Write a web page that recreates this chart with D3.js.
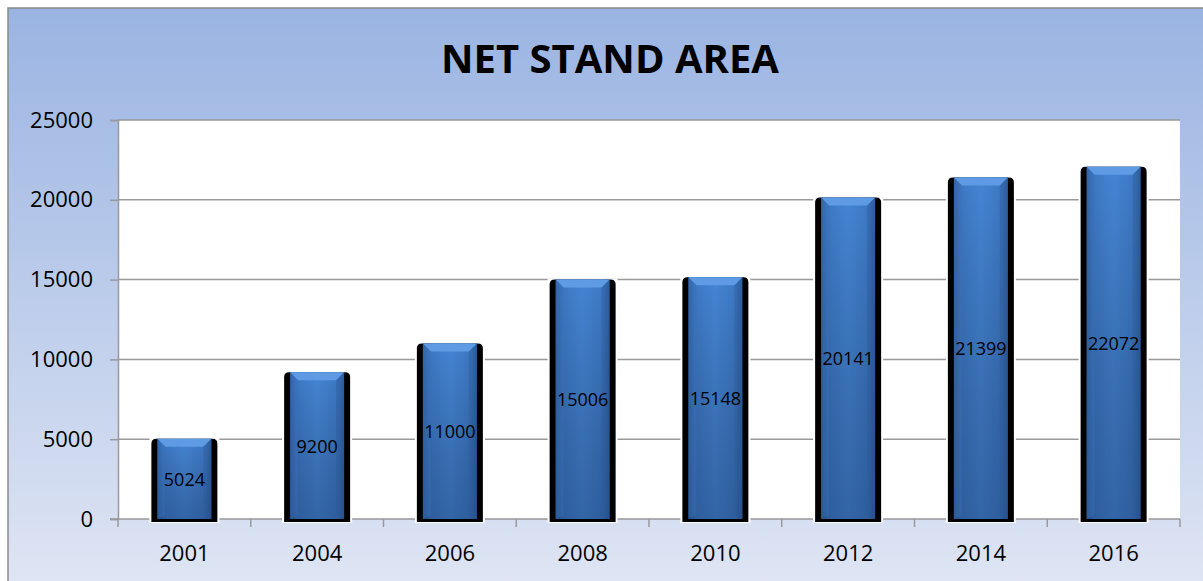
<!DOCTYPE html>
<html>
<head>
<meta charset="utf-8">
<script src="https://cdn.jsdelivr.net/npm/d3@7"></script>
<style>
  body { margin: 0; background: #fff; }
  text { font-family: "Open Sans", sans-serif; }
</style>
</head>
<body>
<script>
// data
let years = ['2001', '2004', '2006', '2008', '2010', '2012', '2014', '2016']
let standArea = [5024, 9200, 11000, 15006, 15148, 20141, 21399, 22072]
let yTicks = [0, 5000, 10000, 15000, 20000, 25000]

let W = 1203, H = 581
let plot = { left: 118, right: 1180, top: 120, bottom: 519 }

let svg = d3.select('body')
    .append('svg')
    .attr('width', W)
    .attr('height', H)

let defs = svg.append('defs')

let bgGrad = defs.append('linearGradient')
    .attr('id', 'bg')
    .attr('x1', 0).attr('y1', 0).attr('x2', 0).attr('y2', 1)
bgGrad.append('stop').attr('offset', '0%').attr('stop-color', '#9ab4e2')
bgGrad.append('stop').attr('offset', '100%').attr('stop-color', '#e0e6f4')

// horizontal shading of the bar
let barGrad = defs.append('linearGradient')
    .attr('id', 'barH')
    .attr('x1', 0).attr('y1', 0).attr('x2', 1).attr('y2', 0)
barGrad.append('stop').attr('offset', '0%').attr('stop-color', '#2f5f9f')
barGrad.append('stop').attr('offset', '12%').attr('stop-color', '#3d78c4')
barGrad.append('stop').attr('offset', '50%').attr('stop-color', '#4585d4')
barGrad.append('stop').attr('offset', '88%').attr('stop-color', '#3d78c4')
barGrad.append('stop').attr('offset', '100%').attr('stop-color', '#2f5f9f')

let barV = defs.append('linearGradient')
    .attr('id', 'barV')
    .attr('x1', 0).attr('y1', 0).attr('x2', 0).attr('y2', 1)
barV.append('stop').attr('offset', '0%').attr('stop-color', '#000').attr('stop-opacity', 0)
barV.append('stop').attr('offset', '100%').attr('stop-color', '#0a1e40').attr('stop-opacity', 0.3)

// background frame
svg.append('rect')
    .attr('x', 8)
    .attr('y', 8)
    .attr('width', W + 10)
    .attr('height', H + 10)
    .style('fill', 'url(#bg)')
    .style('stroke', '#8a8a8a')
    .style('stroke-width', 1.5)

svg.append('rect')
    .attr('x', plot.left)
    .attr('y', plot.top)
    .attr('width', plot.right - plot.left)
    .attr('height', plot.bottom - plot.top)
    .style('fill', '#fff')

svg.append('text')
    .attr('x', 610)
    .attr('y', 73)
    .attr('text-anchor', 'middle')
    .style('font-size', '40px')
    .style('font-weight', 'bold')
    .style('fill', '#000')
    .text('NET STAND AREA')

let x = d3.scaleBand()
    .domain(years)
    .range([plot.left, plot.right])

let y = d3.scaleLinear()
    .domain([0, 25000])
    .range([plot.bottom, plot.top])

// gridlines
svg.append('g')
    .selectAll('line')
    .data(yTicks.slice(1))
    .join('line')
    .attr('x1', plot.left)
    .attr('x2', plot.right)
    .attr('y1', d => y(d))
    .attr('y2', d => y(d))
    .style('stroke', '#999')
    .style('stroke-width', 1.5)

// y axis
let yAxis = svg.append('g')
    .attr('transform', `translate(${plot.left},0)`)
    .call(d3.axisLeft(y).tickValues(yTicks).tickFormat(d3.format('d')).tickSize(8).tickPadding(17))
yAxis.select('.domain').style('stroke', '#999').style('stroke-width', 1.5)
yAxis.selectAll('.tick line').style('stroke', '#999').style('stroke-width', 1.5)
yAxis.selectAll('text').style('font-size', '22px').style('fill', '#000')
    .style('font-family', '"Open Sans", sans-serif')

// x axis
let xAxis = svg.append('g')
    .attr('transform', `translate(0,${plot.bottom})`)
    .call(d3.axisBottom(x).tickSize(0).tickPadding(26))
xAxis.select('.domain').remove()
xAxis.selectAll('text').style('font-size', '22px').style('fill', '#000')
    .style('font-family', '"Open Sans", sans-serif')

svg.append('line')
    .attr('x1', plot.left - 8)
    .attr('x2', plot.right)
    .attr('y1', plot.bottom)
    .attr('y2', plot.bottom)
    .style('stroke', '#999')
    .style('stroke-width', 1.5)

svg.append('g')
    .selectAll('line')
    .data(years.map((d, i) => i).concat([years.length]))
    .join('line')
    .attr('x1', i => plot.left + i * x.step())
    .attr('x2', i => plot.left + i * x.step())
    .attr('y1', plot.bottom)
    .attr('y2', plot.bottom + 8)
    .style('stroke', '#999')
    .style('stroke-width', 1.5)

// bars
let outerW = 66, innerW = 54
let bars = svg.append('g')
    .selectAll('g')
    .data(years.map((d, i) => ({ year: d, value: standArea[i] })))
    .join('g')
    .attr('transform', d => `translate(${x(d.year) + x.bandwidth() / 2},0)`)

// white halo + black shadow
bars.append('rect')
    .attr('x', -outerW / 2 - 2)
    .attr('y', d => y(d.value) - 1)
    .attr('width', outerW + 4)
    .attr('height', d => plot.bottom - y(d.value) + 5)
    .style('fill', '#fff')

bars.append('path')
    .attr('d', d => {
        let t = y(d.value), b = plot.bottom + 3, l = -outerW / 2, r = outerW / 2, rr = 5
        return `M${l},${b} L${l},${t + rr} Q${l},${t} ${l + rr},${t} L${r - rr},${t} Q${r},${t} ${r},${t + rr} L${r},${b} Z`
    })
    .style('fill', '#000')

bars.append('rect')
    .attr('x', -innerW / 2)
    .attr('y', d => y(d.value))
    .attr('width', innerW)
    .attr('height', d => plot.bottom - y(d.value))
    .style('fill', 'url(#barH)')

bars.append('rect')
    .attr('x', -innerW / 2)
    .attr('y', d => y(d.value))
    .attr('width', innerW)
    .attr('height', d => plot.bottom - y(d.value))
    .style('fill', 'url(#barV)')

// bevel on top
bars.append('path')
    .attr('d', d => {
        let t = y(d.value), l = -innerW / 2, r = innerW / 2, bv = 8
        return `M${l},${t} L${r},${t} L${r - bv},${t + bv} L${l + bv},${t + bv} Z`
    })
    .style('fill', '#5f9be4')

bars.append('path')
    .attr('d', d => {
        let t = y(d.value), l = -innerW / 2, bv = 8
        return `M${l},${t} L${l + bv},${t + bv} L${l + bv},${plot.bottom - 4} L${l},${plot.bottom} Z`
    })
    .style('fill', '#3a70b6')
    .style('opacity', 0.4)

bars.append('path')
    .attr('d', d => {
        let t = y(d.value), r = innerW / 2, bv = 8
        return `M${r},${t} L${r - bv},${t + bv} L${r - bv},${plot.bottom - 4} L${r},${plot.bottom} Z`
    })
    .style('fill', '#2c5a98')
    .style('opacity', 0.4)

bars.append('text')
    .attr('x', 0)
    .attr('y', d => (y(d.value) + plot.bottom) / 2 + 7)
    .attr('text-anchor', 'middle')
    .style('font-size', '18px')
    .style('fill', '#000')
    .text(d => d.value)
</script>
</body>
</html>
